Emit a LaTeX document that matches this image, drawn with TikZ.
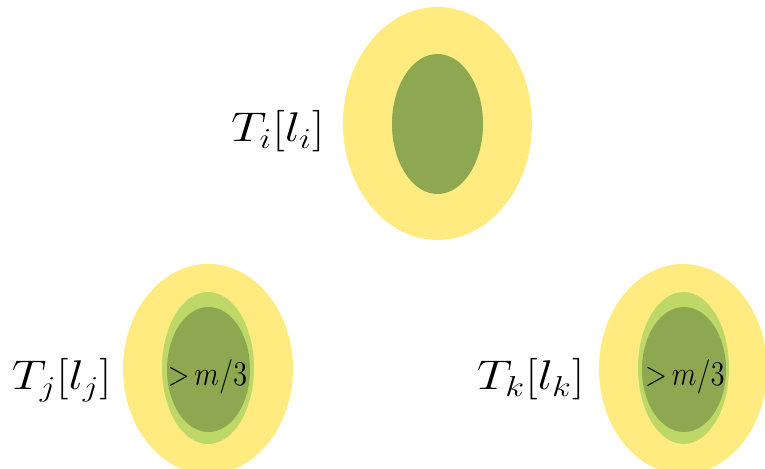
\documentclass[tikz,border=0pt]{standalone}
\usepackage{amsmath}
\usetikzlibrary{shapes.geometric,positioning}
\definecolor{shellyellow}{RGB}{255,235,128}
\definecolor{coregreen}{RGB}{141,168,80}
\definecolor{ringgreen}{RGB}{190,216,104}
\newcommand{\widelbl}[1]{\scalebox{1.2}[1]{$#1$}}
\newcommand{\talltxt}[1]{\scalebox{1}[1.2]{$#1$}}

\begin{document}
\begin{tikzpicture}[x=0.5pt, y=-0.5pt,
    blob/.style={ellipse, inner sep=0pt, draw=none},
    lbl/.style={inner sep=0pt, anchor=base east, font=\fontsize{21.5}{26}\selectfont},
    frac/.style={inner sep=0pt, anchor=base, font=\fontsize{14}{17}\selectfont}]
  \useasboundingbox (0,0) rectangle (765,469);

  % upper tree
  \node[blob, fill=shellyellow, minimum width=94.5pt, minimum height=116.5pt] (Ti) at (437.5,123.5) {};
  \node[blob, fill=coregreen, minimum width=45.5pt, minimum height=70pt] (Ti-core) at (437.5,124) {};
  \node[lbl] (Ti-lbl) at (325,142) {\widelbl{T_i[l_i]}};

  % lower left
  \node[blob, fill=shellyellow, minimum width=85pt, minimum height=105pt] (Tj) at (208,369) {};
  \node[blob, fill=ringgreen, minimum width=46pt, minimum height=76pt] (Tj-ring) at (208,368) {};
  \node[blob, fill=coregreen, minimum width=41.5pt, minimum height=62.5pt] (Tj-core) at (208.5,369.5) {};
  \node[frac] (Tj-txt) at (207.5,386) {\talltxt{{>}\,m/3}};
  \node[lbl] (Tj-lbl) at (112,390) {\scalebox{1.17}[1]{$T_j[l_j]$}};

  % lower right
  \node[blob, fill=shellyellow, minimum width=84pt, minimum height=105pt] (Tk) at (683,369) {};
  \node[blob, fill=ringgreen, minimum width=45.5pt, minimum height=76pt] (Tk-ring) at (683.5,368) {};
  \node[blob, fill=coregreen, minimum width=42pt, minimum height=62.5pt] (Tk-core) at (684,369.5) {};
  \node[frac] (Tk-txt) at (685,386) {\talltxt{{>}\,m/3}};
  \node[lbl] (Tk-lbl) at (585,390) {\widelbl{T_k[l_k]}};
\end{tikzpicture}
\end{document}
